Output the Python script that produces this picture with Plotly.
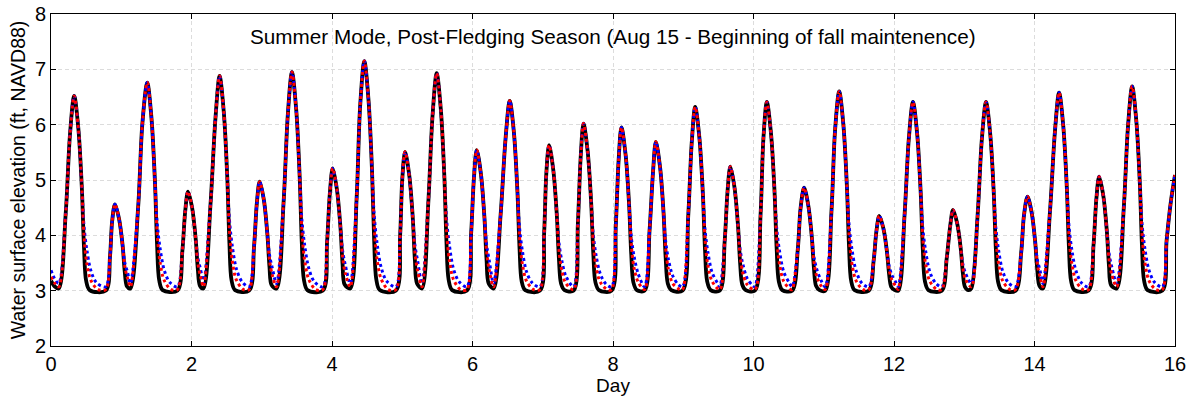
import plotly.graph_objects as go

# ---- data (days, ft NAVD88) ----
# shared points (rising limb, crest, upper falling limb) for all three runs
tide_day = [
    0.21, 0.27, 0.33, 0.39, 0.44,
    0.84, 0.87, 0.91, 0.97, 1.02,
    1.24, 1.30, 1.37, 1.43, 1.48,
    1.87, 1.91, 1.95, 2.01, 2.06,
    2.27, 2.34, 2.40, 2.46, 2.51,
    2.89, 2.93, 2.97, 3.03, 3.08,
    3.31, 3.37, 3.43, 3.49, 3.54,
    3.93, 3.97, 4.01, 4.07, 4.12,
    4.35, 4.40, 4.46, 4.52, 4.57,
    4.97, 5.00, 5.04, 5.10, 5.15,
    5.37, 5.43, 5.49, 5.55, 5.60,
    5.98, 6.02, 6.06, 6.12, 6.17,
    6.40, 6.47, 6.53, 6.59, 6.64,
    7.02, 7.05, 7.09, 7.15, 7.20,
    7.50, 7.54, 7.58, 7.64, 7.69,
    8.04, 8.08, 8.12, 8.18, 8.23,
    8.52, 8.57, 8.61, 8.67, 8.72,
    9.07, 9.12, 9.17, 9.23, 9.28,
    9.59, 9.63, 9.67, 9.73, 9.78,
    10.10, 10.14, 10.19, 10.25, 10.30,
    10.63, 10.67, 10.72, 10.78, 10.83,
    11.11, 11.16, 11.22, 11.28, 11.33,
    11.71, 11.75, 11.79, 11.85, 11.90,
    12.15, 12.21, 12.27, 12.33, 12.38,
    12.75, 12.80, 12.84, 12.90, 12.95,
    13.19, 13.25, 13.31, 13.37, 13.42,
    13.81, 13.85, 13.90, 13.96, 14.01,
    14.22, 14.29, 14.35, 14.41, 14.46,
    14.84, 14.88, 14.92, 14.98, 15.03,
    15.27, 15.33, 15.39, 15.45, 15.50,
    15.88, 15.94, 16.00]
tide_ft = [
    4.41, 5.82, 6.52, 5.92, 4.83,
    3.62, 4.25, 4.56, 4.29, 3.81,
    4.50, 6.01, 6.76, 6.12, 4.96,
    3.72, 4.43, 4.79, 4.49, 3.93,
    4.55, 6.10, 6.88, 6.22, 5.02,
    3.79, 4.58, 4.97, 4.64, 4.02,
    4.58, 6.16, 6.95, 6.28, 5.05,
    3.88, 4.77, 5.21, 4.83, 4.15,
    4.66, 6.32, 7.15, 6.44, 5.16,
    4.00, 5.01, 5.51, 5.08, 4.31,
    4.57, 6.14, 6.93, 6.26, 5.04,
    4.02, 5.03, 5.54, 5.11, 4.32,
    4.37, 5.74, 6.43, 5.85, 4.78,
    4.05, 5.10, 5.63, 5.18, 4.37,
    4.21, 5.42, 6.02, 5.51, 4.57,
    4.18, 5.36, 5.95, 5.45, 4.53,
    4.08, 5.15, 5.69, 5.23, 4.40,
    4.33, 5.66, 6.32, 5.76, 4.73,
    3.90, 4.79, 5.24, 4.86, 4.16,
    4.36, 5.73, 6.41, 5.83, 4.77,
    3.74, 4.49, 4.86, 4.54, 3.97,
    4.44, 5.88, 6.60, 5.99, 4.87,
    3.54, 4.08, 4.35, 4.12, 3.70,
    4.36, 5.73, 6.41, 5.83, 4.77,
    3.58, 4.17, 4.46, 4.21, 3.76,
    4.36, 5.73, 6.41, 5.83, 4.77,
    3.68, 4.36, 4.70, 4.41, 3.88,
    4.43, 5.86, 6.58, 5.97, 4.86,
    3.82, 4.65, 5.06, 4.71, 4.07,
    4.48, 5.95, 6.69, 6.06, 4.92,
    3.90, 4.60, 5.09]

# low-water points (start of record and each trough / end of floor)
low_day = [0.00, 0.05, 0.11, 0.78, 1.13, 1.80, 2.17, 2.82, 3.21, 3.87, 4.26,
           4.91, 5.28, 5.92, 6.30, 6.96, 7.44, 7.98, 8.45, 8.99, 9.52, 10.02,
           10.55, 11.02, 11.64, 12.06, 12.68, 13.10, 13.73, 14.12, 14.77,
           15.17, 15.82]
low_black = [3.18, 3.08, 3.04, 3.00, 3.04, 3.00, 3.04, 3.00, 3.04, 3.00, 3.04,
             3.00, 3.04, 3.00, 3.04, 3.00, 3.00, 3.00, 3.00, 3.00, 3.00, 3.00,
             3.00, 3.00, 3.00, 3.00, 3.00, 3.04, 3.00, 3.04, 3.00, 3.04, 3.00]
low_red = [3.25, 3.14, 3.07, 3.02, 3.07, 3.02, 3.07, 3.02, 3.07, 3.02, 3.07,
           3.02, 3.07, 3.02, 3.07, 3.02, 3.02, 3.02, 3.02, 3.02, 3.02, 3.02,
           3.02, 3.02, 3.02, 3.02, 3.02, 3.07, 3.02, 3.07, 3.02, 3.07, 3.02]
low_blue = [3.37, 3.22, 3.13, 3.07, 3.13, 3.07, 3.13, 3.07, 3.13, 3.07, 3.13,
            3.07, 3.13, 3.07, 3.13, 3.07, 3.07, 3.07, 3.07, 3.07, 3.07, 3.07,
            3.07, 3.07, 3.07, 3.07, 3.07, 3.13, 3.07, 3.13, 3.07, 3.13, 3.07]

# drainage (recession) points, different for each run
black_tail_day = [
    0.47, 0.50, 0.55, 1.05, 1.08, 1.51, 1.54, 1.59, 2.09, 2.12,
    2.54, 2.57, 2.62, 3.11, 3.14, 3.57, 3.60, 3.65, 4.15, 4.18,
    4.60, 4.63, 4.68, 5.18, 5.21, 5.63, 5.66, 5.71, 6.20, 6.23,
    6.67, 6.70, 6.75, 7.23, 7.26, 7.31, 7.72, 7.75, 7.80,
    8.26, 8.29, 8.34, 8.75, 8.78, 8.83, 9.31, 9.34, 9.39,
    9.81, 9.84, 9.89, 10.33, 10.36, 10.41, 10.86, 10.89, 10.94,
    11.36, 11.39, 11.44, 11.93, 11.96, 12.01, 12.41, 12.44, 12.49,
    12.98, 13.01, 13.06, 13.45, 13.48, 13.53, 14.04, 14.07,
    14.49, 14.52, 14.57, 15.06, 15.09, 15.53, 15.56, 15.61]
black_tail_ft = [
    3.77, 3.18, 3.01, 3.34, 3.08, 3.83, 3.19, 3.01, 3.39, 3.09,
    3.85, 3.19, 3.01, 3.43, 3.10, 3.87, 3.20, 3.01, 3.49, 3.11,
    3.91, 3.21, 3.01, 3.55, 3.13, 3.86, 3.20, 3.01, 3.56, 3.13,
    3.75, 3.17, 3.01, 3.58, 3.13, 3.01, 3.66, 3.15, 3.01,
    3.65, 3.15, 3.01, 3.59, 3.13, 3.01, 3.73, 3.17, 3.01,
    3.49, 3.11, 3.01, 3.75, 3.17, 3.01, 3.41, 3.09, 3.01,
    3.79, 3.18, 3.01, 3.30, 3.07, 3.01, 3.75, 3.17, 3.01,
    3.32, 3.07, 3.01, 3.75, 3.17, 3.01, 3.37, 3.09,
    3.79, 3.18, 3.01, 3.45, 3.10, 3.81, 3.18, 3.01]

red_tail_day = [
    0.47, 0.51, 0.57, 0.67, 1.05, 1.09, 1.51, 1.55, 1.61, 1.71,
    2.09, 2.13, 2.54, 2.58, 2.64, 2.74, 3.11, 3.15, 3.57, 3.61, 3.67, 3.77,
    4.15, 4.19, 4.60, 4.64, 4.70, 4.80, 5.18, 5.22, 5.63, 5.67, 5.73, 5.83,
    6.20, 6.24, 6.67, 6.71, 6.77, 6.87, 7.23, 7.27, 7.33,
    7.72, 7.76, 7.82, 7.92, 8.26, 8.30, 8.36, 8.75, 8.79, 8.85, 8.95,
    9.31, 9.35, 9.41, 9.81, 9.85, 9.91, 10.33, 10.37, 10.43, 10.53,
    10.86, 10.90, 10.96, 11.36, 11.40, 11.46, 11.56, 11.93, 11.97, 12.03,
    12.41, 12.45, 12.51, 12.61, 12.98, 13.02, 13.45, 13.49, 13.55, 13.65,
    14.04, 14.08, 14.49, 14.53, 14.59, 14.69, 15.06, 15.10,
    15.53, 15.57, 15.63, 15.73]
red_tail_ft = [
    3.99, 3.49, 3.18, 3.02, 3.44, 3.22, 4.05, 3.53, 3.19, 3.02,
    3.50, 3.25, 4.09, 3.54, 3.19, 3.02, 3.55, 3.28, 4.11, 3.55, 3.20, 3.02,
    3.62, 3.31, 4.16, 3.58, 3.21, 3.02, 3.70, 3.35, 4.10, 3.55, 3.20, 3.02,
    3.71, 3.36, 3.96, 3.48, 3.17, 3.02, 3.74, 3.37, 3.13,
    3.85, 3.42, 3.15, 3.02, 3.83, 3.41, 3.15, 3.75, 3.38, 3.13, 3.02,
    3.93, 3.46, 3.17, 3.63, 3.31, 3.11, 3.95, 3.48, 3.17, 3.02,
    3.52, 3.26, 3.09, 4.01, 3.50, 3.18, 3.02, 3.38, 3.19, 3.07,
    3.95, 3.48, 3.17, 3.02, 3.41, 3.20, 3.95, 3.48, 3.17, 3.02,
    3.48, 3.24, 4.00, 3.50, 3.18, 3.02, 3.58, 3.29,
    4.03, 3.52, 3.18, 3.02]

blue_tail_day = [
    0.47, 0.51, 0.57, 0.65, 1.05, 1.09, 1.51, 1.55, 1.61, 1.69,
    2.09, 2.13, 2.54, 2.58, 2.64, 2.72, 3.11, 3.15, 3.57, 3.61, 3.67, 3.75,
    4.15, 4.19, 4.60, 4.64, 4.70, 4.78, 5.18, 5.22, 5.63, 5.67, 5.73, 5.81,
    6.20, 6.24, 6.67, 6.71, 6.77, 6.85, 7.23, 7.27, 7.33,
    7.72, 7.76, 7.82, 7.90, 8.26, 8.30, 8.36, 8.75, 8.79, 8.85, 8.93,
    9.31, 9.35, 9.41, 9.49, 9.81, 9.85, 9.91, 9.99, 10.33, 10.37, 10.43, 10.51,
    10.86, 10.90, 10.96, 11.36, 11.40, 11.46, 11.54, 11.93, 11.97, 12.03,
    12.41, 12.45, 12.51, 12.59, 12.98, 13.02, 13.45, 13.49, 13.55, 13.63,
    14.04, 14.08, 14.49, 14.53, 14.59, 14.67, 15.06, 15.10,
    15.53, 15.57, 15.63, 15.71]
blue_tail_ft = [
    4.16, 3.74, 3.35, 3.14, 3.51, 3.33, 4.24, 3.79, 3.38, 3.15,
    3.59, 3.38, 4.28, 3.81, 3.39, 3.16, 3.65, 3.41, 4.30, 3.83, 3.40, 3.16,
    3.73, 3.46, 4.37, 3.87, 3.42, 3.17, 3.83, 3.53, 4.30, 3.83, 3.39, 3.16,
    3.84, 3.53, 4.13, 3.72, 3.34, 3.14, 3.87, 3.55, 3.26,
    4.00, 3.63, 3.30, 3.12, 3.97, 3.62, 3.30, 3.89, 3.56, 3.27, 3.11,
    4.10, 3.70, 3.33, 3.13, 3.74, 3.47, 3.22, 3.09, 4.13, 3.72, 3.34, 3.14,
    3.61, 3.39, 3.19, 4.19, 3.76, 3.36, 3.14, 3.45, 3.28, 3.14,
    4.13, 3.72, 3.34, 3.14, 3.48, 3.31, 4.13, 3.72, 3.34, 3.14,
    3.56, 3.36, 4.18, 3.75, 3.36, 3.14, 3.68, 3.43,
    4.22, 3.77, 3.37, 3.15]

x_ticks = [0, 2, 4, 6, 8, 10, 12, 14, 16]
y_ticks = [2, 3, 4, 5, 6, 7, 8]
title_text = "Summer Mode, Post-Fledging Season (Aug 15 - Beginning of fall maintenence)"


def build(tail_day, tail_ft, low_ft):
    pts = (list(zip(tide_day, tide_ft)) + list(zip(low_day, low_ft))
           + list(zip(tail_day, tail_ft)))
    pts.sort(key=lambda p: p[0])
    return [p[0] for p in pts], [p[1] for p in pts]


bx, by = build(black_tail_day, black_tail_ft, low_black)
rx, ry = build(red_tail_day, red_tail_ft, low_red)
ux, uy = build(blue_tail_day, blue_tail_ft, low_blue)

fig = go.Figure()
fig.add_trace(go.Scatter(x=bx, y=by, mode="lines", name="black",
                         line=dict(color="black", width=3.8, shape="spline", smoothing=0.9)))
fig.add_trace(go.Scatter(x=ux, y=uy, mode="lines", name="blue",
                         line=dict(color="#0000ff", width=3, dash="dot", shape="spline", smoothing=0.9)))
fig.add_trace(go.Scatter(x=rx, y=ry, mode="lines", name="red",
                         line=dict(color="#ff0000", width=3, dash="dot", shape="spline", smoothing=0.9)))

font_family = "Arial, 'Liberation Sans', sans-serif"
axis_common = dict(showline=True, linecolor="black", linewidth=1, mirror="ticks",
                   ticks="inside", ticklen=5, tickcolor="black",
                   showgrid=True, gridcolor="#dcdcdc", griddash="4px,3px", gridwidth=1,
                   zeroline=False, automargin=False,
                   tickfont=dict(size=20, color="black"))

fig.update_layout(
    width=1197, height=402,
    margin=dict(l=51, r=22, t=14, b=56),
    plot_bgcolor="white", paper_bgcolor="white",
    showlegend=False,
    font=dict(family=font_family, size=20, color="black"),
    xaxis=dict(range=[0, 16], tickvals=x_ticks, ticktext=[str(v) for v in x_ticks],
               title=dict(text="Day", standoff=2, font=dict(size=19)), **axis_common),
    yaxis=dict(range=[2, 8], tickvals=y_ticks, ticktext=[str(v) for v in y_ticks],
               title=dict(text="Water surface elevation (ft, NAVD88)", standoff=4, font=dict(size=19.5)),
               **axis_common),
    annotations=[dict(text=title_text, xref="paper", yref="paper", x=0.5, y=0.931,
                      xanchor="center", yanchor="middle", showarrow=False,
                      font=dict(size=20.7, color="black", family=font_family))],
)

# remove the default 8px page margin so the figure fills the window exactly
fig.write_html("out.html", config={"displayModeBar": False},
               post_script="document.body.style.margin='0';document.body.style.overflow='hidden';")
